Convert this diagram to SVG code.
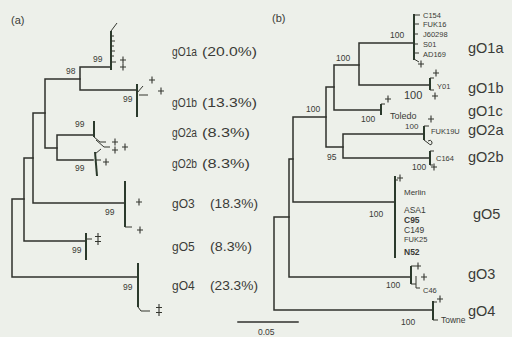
<svg xmlns="http://www.w3.org/2000/svg" width="512" height="337" viewBox="0 0 512 337">
<style>
.br{fill:none;stroke:#2f302d;stroke-width:1.5;stroke-linecap:square}
.cl{fill:none;stroke:#2b3a2c;stroke-width:2;stroke-linecap:butt}
.tw{fill:none;stroke:#34362f;stroke-width:1}
.t{font-family:"Liberation Sans",Arial,sans-serif;fill:#3a3b37}
.lab{font-size:12px}
.labr{font-size:14.5px}
.bs{font-size:8.5px}
.tx{font-size:7.5px}
.mk{fill:none;stroke:#34362f;stroke-width:1.1}
</style>
<defs>
<path id="p" class="mk" d="M-3,0H3M0,-3.5V3.5"/>
<path id="pp" class="mk" d="M0,-6V6M-3,-2.5H3M-3,2.5H3"/>
</defs>
<rect width="512" height="337" fill="#edf0ea"/>
<text class="t" x="11" y="24" font-size="11">(a)</text>
<text class="t" x="272" y="22" font-size="11">(b)</text>

<g id="connectors">
<path class="br" d="M138,277H12V199H24"/>
<path class="br" d="M86,241H24V158H33"/>
<path class="br" d="M125,203H33V113H45"/>
<path class="br" d="M80,79H45V148H57"/>
<path class="br" d="M110,67H80V90H137"/>
<path class="br" d="M93,135H57V160H93"/>
<path class="br" d="M433,310H274V217H289"/>
<path class="br" d="M411,277H289V159H293"/>
<path class="br" d="M395,202H293V117H326"/>
<path class="br" d="M343,147H326V87H334"/>
<path class="br" d="M359,65H334V110H381"/>
<path class="br" d="M413,43H359V85H430"/>
<path class="br" d="M424,134H343V158H429"/>
<path class="br" d="M238,322H298"/>
</g>

<g id="bootstrap-a">
<text class="t bs" x="66" y="74">98</text>
<text class="t bs" x="93" y="62">99</text>
<text class="t bs" x="123" y="102">99</text>
<text class="t bs" x="75" y="127">99</text>
<text class="t bs" x="75" y="171">99</text>
<text class="t bs" x="105" y="215">99</text>
<text class="t bs" x="72" y="253">99</text>
<text class="t bs" x="123" y="290">99</text>
</g>

<g id="a-gO1a">
<path class="cl" d="M111,31V70"/>
<path class="tw" d="M111,31L117,23M111,36H114M111,41H115M111,46H114M111,51H115M111,56H114M111,62H116"/>
<use href="#p" x="123" y="60"/><use href="#p" x="123" y="67"/>
<text class="t lab" x="172" y="56" textLength="25" lengthAdjust="spacingAndGlyphs">gO1a</text><text class="t lab" x="202" y="56" textLength="55" lengthAdjust="spacingAndGlyphs">(20.0%)</text>
</g>
<g id="a-gO1b">
<path class="cl" d="M137,84V117"/>
<path class="tw" d="M137,93L143,86M139,95H148"/>
<use href="#p" x="152" y="80"/><use href="#p" x="161" y="91"/>
<text class="t lab" x="172" y="107" textLength="25" lengthAdjust="spacingAndGlyphs">gO1b</text><text class="t lab" x="202" y="107" textLength="55" lengthAdjust="spacingAndGlyphs">(13.3%)</text>
</g>
<g id="a-gO2a">
<path class="cl" d="M94,121V137"/>
<path class="tw" d="M94,137L100,142H106M96,140L104,147H110"/>
<use href="#p" x="115" y="142"/><use href="#p" x="115" y="150"/><use href="#p" x="125" y="147"/>
<text class="t lab" x="172" y="137" textLength="25" lengthAdjust="spacingAndGlyphs">gO2a</text><text class="t lab" x="202" y="137" textLength="48" lengthAdjust="spacingAndGlyphs">(8.3%)</text>
</g>
<g id="a-gO2b">
<path class="cl" d="M95,152L97,176"/>
<path class="tw" d="M95,154L101,149M96,160H101"/>
<use href="#p" x="106" y="162"/>
<text class="t lab" x="172" y="168" textLength="25" lengthAdjust="spacingAndGlyphs">gO2b</text><text class="t lab" x="202" y="168" textLength="48" lengthAdjust="spacingAndGlyphs">(8.3%)</text>
</g>
<g id="a-gO3">
<path class="cl" d="M125,181V227"/>
<path class="tw" d="M125,227H132"/>
<use href="#p" x="139" y="202"/><use href="#p" x="140" y="230"/>
<text class="t lab" x="172" y="208">gO3</text><text class="t lab" x="210" y="208" textLength="48" lengthAdjust="spacingAndGlyphs">(18.3%)</text>
</g>
<g id="a-gO5">
<path class="cl" d="M86,233V260"/>
<path class="tw" d="M86,239H92"/>
<use href="#pp" x="98" y="239"/>
<text class="t lab" x="172" y="251">gO5</text><text class="t lab" x="210" y="251" textLength="42" lengthAdjust="spacingAndGlyphs">(8.3%)</text>
</g>
<g id="a-gO4">
<path class="cl" d="M138,263V307"/>
<path class="tw" d="M138,307L141,311H150"/>
<use href="#pp" x="159" y="310"/>
<text class="t lab" x="172" y="290">gO4</text><text class="t lab" x="210" y="290" textLength="48" lengthAdjust="spacingAndGlyphs">(23.3%)</text>
</g>

<g id="bootstrap-b">
<text class="t bs" x="336" y="61">100</text>
<text class="t bs" x="306" y="112">100</text>
<text class="t bs" x="327" y="160">95</text>
<text class="t bs" x="390" y="38">100</text>
<text class="t" x="404" y="99" font-size="11">100</text>
<text class="t bs" x="361" y="122">100</text>
<text class="t" x="405" y="129" font-size="8">100</text>
<text class="t bs" x="412" y="170">100</text>
<text class="t bs" x="369" y="217">100</text>
<text class="t bs" x="386" y="288">100</text>
<text class="t bs" x="401" y="325">100</text>
</g>

<g id="b-gO1a">
<path class="cl" d="M414,14V60"/>
<path class="tw" d="M414,15H420M414,24H419M414,34H418M414,44H418M414,53H419M414,59L419,62"/>
<use href="#p" x="421" y="64"/>
<text class="t tx" x="423" y="18">C154</text>
<text class="t tx" x="423" y="27">FUK16</text>
<text class="t tx" x="423" y="37">J60298</text>
<text class="t tx" x="423" y="47">S01</text>
<text class="t tx" x="423" y="57">AD169</text>
<text class="t labr" x="468" y="53">gO1a</text>
</g>
<g id="b-gO1b">
<path class="cl" d="M430,78V90"/>
<path class="tw" d="M430,78H434M430,90H434"/>
<use href="#p" x="436" y="73"/><use href="#p" x="435" y="96"/>
<text class="t tx" x="437" y="89">Y01</text>
<text class="t labr" x="468" y="93">gO1b</text>
</g>
<g id="b-gO1c">
<path class="cl" d="M381,104V115"/>
<path class="tw" d="M381,104H385"/>
<use href="#p" x="388" y="99"/>
<text class="t" x="390" y="119" font-size="9">Toledo</text>
<text class="t labr" x="468" y="116">gO1c</text>
</g>
<g id="b-gO2a">
<path class="cl" d="M424,126V140"/>
<path class="tw" d="M424,126H429M424,140L428,143Q432,147 432,142Q431,139 428,141"/>
<use href="#p" x="431" y="119"/>
<text class="t tx" x="431" y="134">FUK19U</text>
<text class="t labr" x="468" y="135">gO2a</text>
</g>
<g id="b-gO2b">
<path class="cl" d="M430,151V165"/>
<path class="tw" d="M430,151H434M430,165H433"/>
<use href="#p" x="434" y="167"/>
<text class="t tx" x="436" y="161">C164</text>
<text class="t labr" x="468" y="162">gO2b</text>
</g>
<g id="b-gO5">
<path class="cl" d="M395,176V258" stroke-width="2.5"/>
<path class="tw" d="M395,180H398"/>
<use href="#p" x="400" y="178"/>
<text class="t" x="404" y="195" font-size="8">Merlin</text>
<text class="t" x="404" y="213" font-size="8.5">ASA1</text>
<text class="t" x="404" y="223" font-size="8.5" font-weight="bold">C95</text>
<text class="t" x="404" y="233" font-size="8.5">C149</text>
<text class="t" x="404" y="242" font-size="7.5">FUK25</text>
<text class="t" x="404" y="255" font-size="8.5" font-weight="bold">N52</text>
<text class="t labr" x="473" y="219">gO5</text>
</g>
<g id="b-gO3">
<path class="cl" d="M411,266V284"/>
<path class="tw" d="M411,266H415M411,284H416M416,276V288H420"/>
<use href="#p" x="418" y="266"/><use href="#p" x="424" y="277"/>
<text class="t tx" x="423" y="293">C46</text>
<text class="t labr" x="468" y="279">gO3</text>
</g>
<g id="b-gO4">
<path class="cl" d="M433,301V320"/>
<path class="tw" d="M433,302H437M433,320H438"/>
<use href="#p" x="440" y="299"/>
<text class="t" x="441" y="323" font-size="8.5">Towne</text>
<text class="t labr" x="468" y="316">gO4</text>
</g>

<text class="t" x="258" y="335" font-size="8.5">0.05</text>
</svg>
